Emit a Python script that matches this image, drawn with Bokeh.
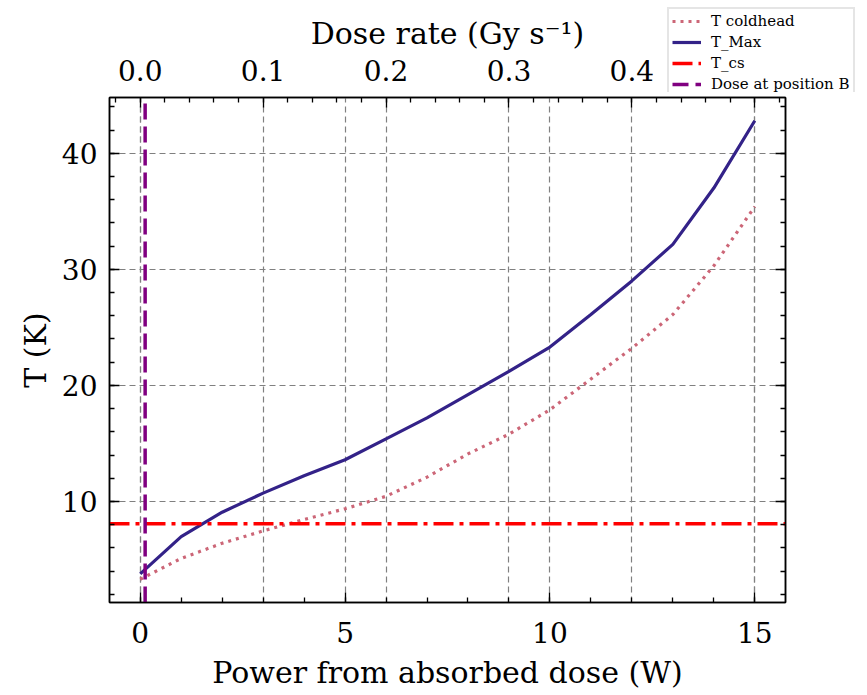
from bokeh.plotting import figure
from bokeh.models import (Range1d, LinearAxis, SingleIntervalTicker, CustomJSTickFormatter,
                          Grid, Legend, LegendItem)
from bokeh.embed import file_html
from bokeh.resources import INLINE

# ---- data ----
power = [0, 1, 2, 3, 4, 5, 6, 7, 8, 9, 10, 11, 12, 13, 14, 15]
t_coldhead = [3.3, 5.1, 6.4, 7.47, 8.45, 9.37, 10.45, 12.1, 14.1, 15.8, 17.9, 20.55, 23.2, 26.1, 30.3, 35.4]
t_max = [3.76, 6.98, 9.08, 10.72, 12.22, 13.6, 15.4, 17.2, 19.2, 21.2, 23.3, 26.1, 29.0, 32.15, 37.0, 42.8]
t_cs = 8.08
dose_position_b = 0.12          # W
dose_per_watt = 1.0 / 30.0      # Gy s^-1 per W
labels = ["T coldhead", "T_Max", "T_cs", "Dose at position B"]

FONT = "DejaVu Serif"
x0, x1 = -0.75, 15.75
y0, y1 = 1.3, 44.8

STY_COLD = dict(line_color="#CC6677", line_width=3.2, line_dash="3 5")
STY_MAX = dict(line_color="#332288", line_width=3.2)
STY_CS = dict(line_color="#FF0000", line_width=3.5, line_dash="20 6 4 6")
STY_B = dict(line_color="#800080", line_width=3.5, line_dash="16 7")

p = figure(width=859, height=693, output_backend="svg", toolbar_location=None,
           x_range=Range1d(x0, x1), y_range=Range1d(y0, y1),
           min_border_left=109, min_border_right=74, min_border_top=97, min_border_bottom=91)
p.extra_x_ranges = {"dose": Range1d(x0 * dose_per_watt, x1 * dose_per_watt)}
p.background_fill_color = "white"
p.border_fill_color = "white"
p.outline_line_color = "black"
p.outline_line_width = 1.5
p.xgrid.visible = False
p.ygrid.visible = False

def style_axis(ax):
    ax.axis_line_color = "black"
    ax.axis_line_width = 1.5
    ax.major_tick_in = 10
    ax.major_tick_out = 0
    ax.minor_tick_in = 5
    ax.minor_tick_out = 0
    ax.major_tick_line_width = 1.3
    ax.minor_tick_line_width = 1.3
    ax.major_tick_line_color = "black"
    ax.minor_tick_line_color = "black"
    ax.major_label_text_font = FONT
    ax.major_label_text_font_size = "28px"
    ax.major_label_text_color = "black"
    ax.axis_label_text_font = FONT
    ax.axis_label_text_font_size = "30px"
    ax.axis_label_text_font_style = "normal"
    ax.axis_label_text_color = "black"

xax = p.xaxis[0]
xax.ticker = SingleIntervalTicker(interval=5, num_minor_ticks=5)
xax.axis_label = "Power from absorbed dose (W)"
style_axis(xax)
xax.major_label_standoff = 19
xax.axis_label_standoff = 9

yax = p.yaxis[0]
yax.ticker = SingleIntervalTicker(interval=10, num_minor_ticks=5)
yax.axis_label = "T (K)"
style_axis(yax)
yax.major_label_standoff = 12
yax.axis_label_standoff = 6

# the 0.5 label sits under the legend in the reference, so it is left blank
top = LinearAxis(x_range_name="dose", axis_label="Dose rate (Gy s⁻¹)",
                 ticker=SingleIntervalTicker(interval=0.1, num_minor_ticks=5),
                 formatter=CustomJSTickFormatter(code="return tick > 0.45 ? '' : tick.toFixed(1)"))
style_axis(top)
top.major_label_standoff = 17
top.axis_label_standoff = 6
p.add_layout(top, "above")

right = LinearAxis(ticker=SingleIntervalTicker(interval=10, num_minor_ticks=5),
                   formatter=CustomJSTickFormatter(code="return ''"))
style_axis(right)
p.add_layout(right, "right")

grid_kw = dict(grid_line_color="#808080", grid_line_width=1.2, grid_line_dash="6 4")
p.add_layout(Grid(dimension=0, ticker=xax.ticker, **grid_kw))
p.add_layout(Grid(dimension=0, ticker=top.ticker, x_range_name="dose", **grid_kw))
p.add_layout(Grid(dimension=1, ticker=yax.ticker, **grid_kw))

p.line(power, t_coldhead, **STY_COLD)
p.line(power, t_max, **STY_MAX)
p.line([x0, x1], [t_cs, t_cs], **STY_CS)
p.line([dose_position_b, dose_position_b], [y0, y1], **STY_B)

# ---- legend: a small figure placed over the top-right corner ----
# its ranges are set far away from the data so the sample renderers themselves stay hidden
lf = figure(width=193, height=86, output_backend="svg", toolbar_location=None,
            x_axis_type=None, y_axis_type=None, min_border=0,
            x_range=Range1d(1000, 1001), y_range=Range1d(1000, 1001),
            styles={"position": "absolute", "left": "666px", "top": "6px"})
lf.outline_line_color = None
lf.background_fill_alpha = 0
lf.border_fill_alpha = 0
lf.xgrid.visible = False
lf.ygrid.visible = False
rs = [lf.line(power, t_coldhead, **STY_COLD),
      lf.line(power, t_max, **STY_MAX),
      lf.line([x0, x1], [t_cs, t_cs], **STY_CS),
      lf.line([dose_position_b, dose_position_b], [y0, y1], **STY_B)]
legend = Legend(items=[LegendItem(label=l, renderers=[r]) for l, r in zip(labels, rs)],
                location="top_left")
legend.label_text_font = FONT
legend.label_text_font_size = "15px"
legend.label_text_color = "black"
legend.label_height = 16
legend.glyph_height = 16
legend.glyph_width = 29
legend.label_standoff = 10
legend.spacing = 3
legend.padding = 3
legend.margin = 1
legend.border_line_color = "#cccccc"
legend.border_line_width = 2.5
legend.background_fill_color = "white"
legend.background_fill_alpha = 1.0
lf.add_layout(legend, "center")

open("out.html", "w").write(file_html([p, lf], INLINE))
